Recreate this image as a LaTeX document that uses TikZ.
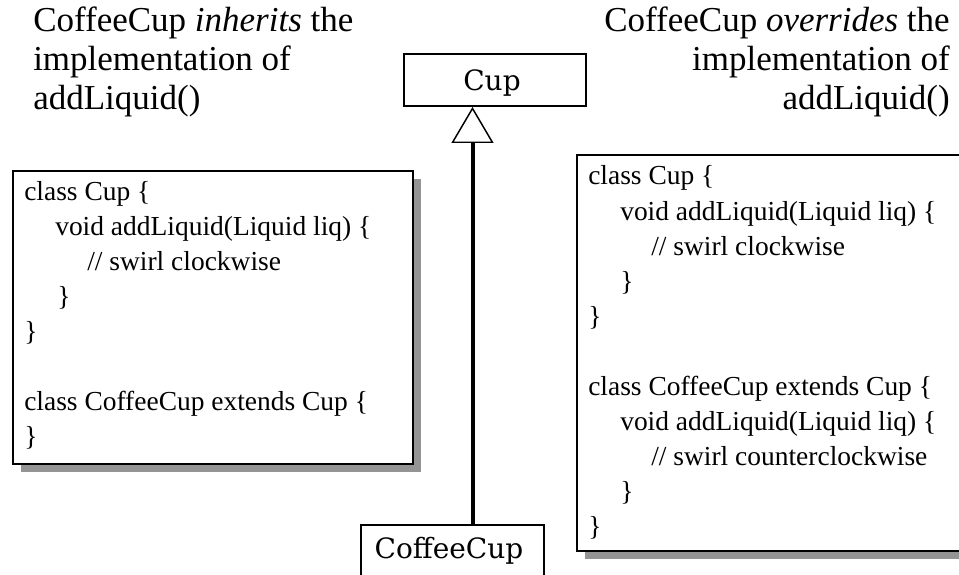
\documentclass[tikz,border=0pt]{standalone}
\usepackage{fontspec}
\setmainfont{Liberation Serif}
\newfontfamily\boxlabelfont{DejaVu Serif}
\usetikzlibrary{arrows.meta,shadows}
\tikzset{
  headtext/.style={font=\fontsize{26.25}{30}\selectfont, inner sep=0pt},
  codetext/.style={font=\fontsize{20.6}{25}\selectfont, inner sep=0pt, anchor=base west},
  classlabel/.style={font=\boxlabelfont\fontsize{21}{25}\selectfont, inner sep=0pt},
  classbox/.style={draw=black, line width=1.5pt, fill=white, inner sep=0pt},
  codebox/.style={draw=black, line width=1.5pt, fill=white, inner sep=0pt, anchor=north west,
    drop shadow={shadow xshift=6pt, shadow yshift=-6pt, fill=black!42, opacity=1}},
  inherit/.style={line width=3pt, -{Triangle[open, length=27pt, width=31.5pt, line width=1.1pt]}}
}
\begin{document}
\begin{tikzpicture}[x=0.75pt,y=-0.75pt]
\clip (0,0) rectangle (959,574);
\fill[white] (0,0) rectangle (959,574);

% headings
\node[headtext, anchor=base west] (hl1) at (33,32) {CoffeeCup \textit{inherits} the};
\node[headtext, anchor=base west] (hl2) at (33,71) {implementation of};
\node[headtext, anchor=base west] (hl3) at (33,110) {addLiquid()};
\node[headtext, anchor=base east] (hr1) at (950,32) {CoffeeCup \textit{overrides} the};
\node[headtext, anchor=base east] (hr2) at (950,71) {implementation of};
\node[headtext, anchor=base east] (hr3) at (950,110) {addLiquid()};

% class boxes
\node[classbox, minimum width=136.5pt, minimum height=39pt] (cup) at (495,80) {};
\node[classlabel, anchor=base] (cuplabel) at (492,91) {Cup};
\node[classbox, anchor=north west, minimum width=137.25pt, minimum height=75pt] (coffee) at (360,524) {};
\node[classlabel, anchor=base] (coffeelabel) at (449,558) {CoffeeCup};
\coordinate (stem) at (472.5,0);
\draw[inherit] (coffee.north -| stem) -- (cup.south -| stem);

% left code box
\node[codebox, minimum width=300pt, minimum height=219.75pt] (leftbox) at (12,170) {};
\node[codetext] (l1) at (24,200) {class Cup \{};
\node[codetext] (l2) at (55,235) {void addLiquid(Liquid liq) \{};
\node[codetext] (l3) at (87,270) {// swirl clockwise};
\node[codetext] (l4) at (57,305) {\}};
\node[codetext] (l5) at (24,340) {\}};
\node[codetext] (l6) at (24,410) {class CoffeeCup extends Cup \{};
\node[codetext] (l7) at (24,445) {\}};

% right code box
\node[codebox, minimum width=300pt, minimum height=297pt] (rightbox) at (576,154) {};
\node[codetext] (r1) at (588,185) {class Cup \{};
\node[codetext] (r2) at (620,220) {void addLiquid(Liquid liq) \{};
\node[codetext] (r3) at (651,255) {// swirl clockwise};
\node[codetext] (r4) at (620,290) {\}};
\node[codetext] (r5) at (588,325) {\}};
\node[codetext] (r6) at (588,395) {class CoffeeCup extends Cup \{};
\node[codetext] (r7) at (620,430) {void addLiquid(Liquid liq) \{};
\node[codetext] (r8) at (651,465) {// swirl counterclockwise};
\node[codetext] (r9) at (620,500) {\}};
\node[codetext] (r10) at (588,535) {\}};
\end{tikzpicture}
\end{document}
